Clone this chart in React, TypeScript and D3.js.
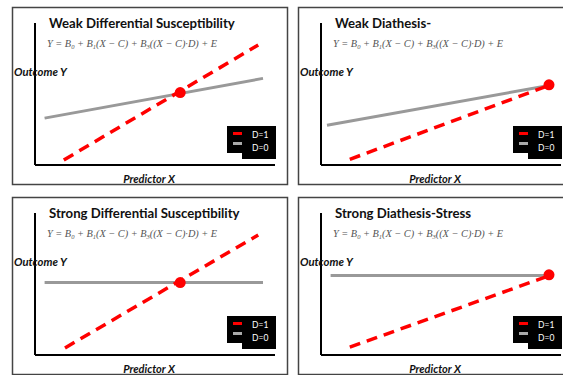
import React, { useRef, useEffect } from "react";
import * as d3 from "d3";

// chart content
const titles = [
  "Weak Differential Susceptibility",
  "Weak Diathesis-",
  "Strong Differential Susceptibility",
  "Strong Diathesis-Stress",
];
// D=0 (gray) line endpoints, [x, y] on a 0-10 scale
const d0Lines = [
  [[0.4, 3.3], [9.5, 6.1]],
  [[0.25, 2.8], [9.5, 5.6]],
  [[0.4, 5.1], [9.5, 5.1]],
  [[0.4, 5.6], [9.45, 5.6]],
];
// D=1 (red dashed) line endpoints
const d1Lines = [
  [[1.2, 0.35], [9.3, 8.45]],
  [[1.2, 0.4], [9.4, 5.55]],
  [[1.25, 0.5], [9.3, 8.45]],
  [[1.2, 0.55], [9.45, 5.55]],
];
// point where the lines meet
const crossPoints = [
  [6.05, 5.1],
  [9.5, 5.65],
  [6.05, 5.1],
  [9.5, 5.65],
];
const legendLabels = ["D=1", "D=0"];
const xLabel = "Predictor X";
const yLabel = "Outcome Y";

const W = 563;
const H = 375;

export default function App() {
  const svgRef = useRef<SVGSVGElement>(null);

  useEffect(() => {
    const svg = d3.select(svgRef.current);
    svg.selectAll("*").remove();
    svg.append("rect").attr("width", W).attr("height", H).attr("fill", "#fff");

    const panelW = 275;
    const panelH = 177;
    const origins = [
      [12, 7],
      [298, 7],
      [12, 197],
      [298, 197],
    ];

    titles.forEach((title, i) => {
      const [px, py] = origins[i];
      const g = svg.append("g").attr("transform", `translate(${px},${py})`);

      // panel frame
      g.append("rect")
        .attr("x", 0.5)
        .attr("y", 0.5)
        .attr("width", panelW)
        .attr("height", panelH)
        .attr("fill", "none")
        .attr("stroke", "#444")
        .attr("stroke-width", 1.5);

      const x = d3.scaleLinear().domain([0, 10]).range([23, 263]);
      const y = d3.scaleLinear().domain([0, 10]).range([158, 16]);

      // axes as plain lines, no ticks
      g.append("line")
        .attr("x1", x(0)).attr("x2", x(0))
        .attr("y1", y(10)).attr("y2", y(0))
        .attr("stroke", "#000").attr("stroke-width", 2);
      g.append("line")
        .attr("x1", x(0)).attr("x2", x(10))
        .attr("y1", y(0)).attr("y2", y(0))
        .attr("stroke", "#000").attr("stroke-width", 2);

      // title
      g.append("text")
        .attr("x", 37)
        .attr("y", 21)
        .attr("font-family", "Lato, 'Open Sans', sans-serif")
        .attr("font-weight", "bold")
        .attr("font-size", 13.2)
        .attr("fill", "#111")
        .text(title);

      // model formula
      const f = g.append("text")
        .attr("x", 35)
        .attr("y", 40)
        .attr("font-family", "'Liberation Serif', serif")
        .attr("font-style", "italic")
        .attr("font-size", 10.3)
        .attr("fill", "#555");
      const parts: [string, string?][] = [
        ["Y = B"], ["0", "sub"], [" + B"], ["1", "sub"], ["(X − C) + B"], ["3", "sub"], ["((X − C)·D) + E"],
      ];
      parts.forEach(([t, kind], k) => {
        const ts = f.append("tspan").text(t);
        const prev = parts[k - 1];
        if (kind === "sub") ts.attr("font-size", 6.5).attr("dy", 2);
        else if (prev && prev[1] === "sub") ts.attr("dy", -2);
      });

      // axis labels
      g.append("text")
        .attr("x", 2)
        .attr("y", 69)
        .attr("font-family", "Lato, 'Open Sans', sans-serif")
        .attr("font-weight", "bold")
        .attr("font-style", "italic")
        .attr("font-size", 11.3)
        .attr("fill", "#111")
        .text(yLabel);
      g.append("text")
        .attr("x", 137)
        .attr("y", 176)
        .attr("text-anchor", "middle")
        .attr("font-family", "Lato, 'Open Sans', sans-serif")
        .attr("font-weight", "bold")
        .attr("font-style", "italic")
        .attr("font-size", 11)
        .attr("fill", "#111")
        .text(xLabel);

      const line = d3.line<number[]>().x((d) => x(d[0])).y((d) => y(d[1]));

      g.append("path")
        .datum(d0Lines[i])
        .attr("d", line)
        .attr("fill", "none")
        .attr("stroke", "#999")
        .attr("stroke-width", 3);

      g.append("path")
        .datum(d1Lines[i])
        .attr("d", line)
        .attr("fill", "none")
        .attr("stroke", "#ff0000")
        .attr("stroke-width", 3.5)
        .attr("stroke-dasharray", "11,7");

      g.append("circle")
        .attr("cx", x(crossPoints[i][0]))
        .attr("cy", y(crossPoints[i][1]))
        .attr("r", 5.5)
        .attr("fill", "#ff0000");

      // legend box
      const lg = g.append("g").attr("transform", "translate(215,119)");
      lg.append("rect").attr("width", 49).attr("height", 27).attr("fill", "#000");
      lg.append("rect").attr("x", 15).attr("y", 10).attr("width", 34).attr("height", 23).attr("fill", "#000");
      const colors = ["#ff0000", "#aaa"];
      legendLabels.forEach((lab, k) => {
        lg.append("rect")
          .attr("x", 6)
          .attr("y", 6 + k * 10)
          .attr("width", 9)
          .attr("height", 3)
          .attr("fill", colors[k]);
        lg.append("text")
          .attr("x", 25)
          .attr("y", 12 + k * 13)
          .attr("font-family", "Lato, 'Open Sans', sans-serif")
          .attr("font-size", 8.5)
          .attr("fill", "#fff")
          .text(lab);
      });
    });
  }, []);

  return (
    <svg
      ref={svgRef}
      width={W}
      height={H}
      style={{ position: "absolute", left: 0, top: 0, display: "block" }}
    />
  );
}
